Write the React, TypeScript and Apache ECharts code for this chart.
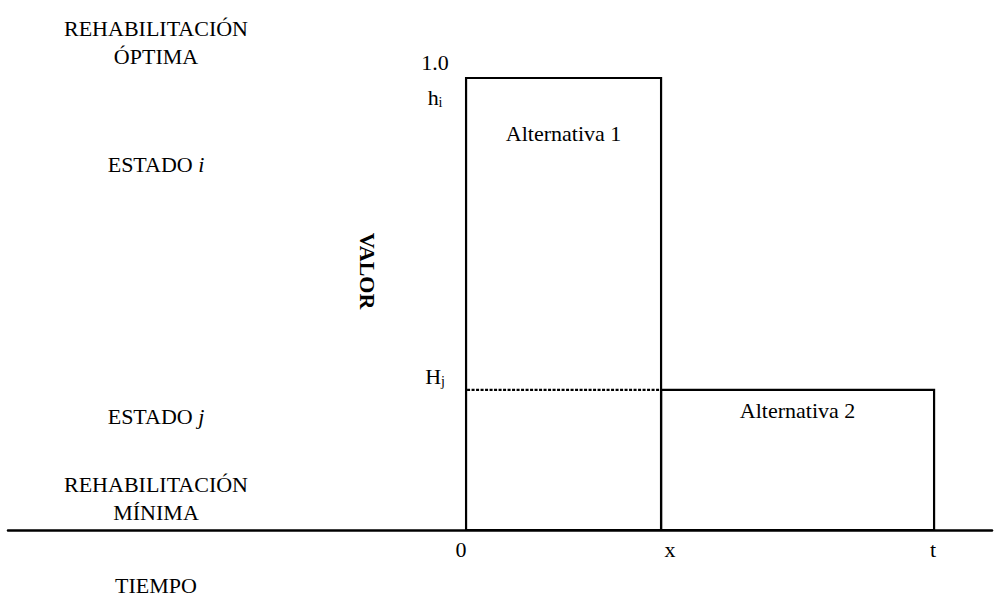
import React, { useEffect, useRef } from "react";
import * as echarts from "echarts";

// ---- data ----
const xTickValues = [0, 1, 2.4];
const xTickLabels = ["0", "x", "t"];
const alternativeNames = ["Alternativa 1", "Alternativa 2"];
const altStart = [0, 1];
const altEnd = [1, 2.4];
const altValue = [1.0, 0.31];
const yMarkValues = [1.0, 1.0, 0.31];
const yMarkLabels = ["1.0", "{b|h}{s|i}", "{b|H}{s|j}"];
const dottedFrom = [0, 0.31];
const dottedTo = [1, 0.31];
const stateLabels = [
  "REHABILITACIÓN\nÓPTIMA",
  "ESTADO {it|i}",
  "ESTADO {it|j}",
  "REHABILITACIÓN\nMÍNIMA",
];
const axisTitleX = "TIEMPO";
const axisTitleY = "VALOR";

// ---- styles / positions ----
const FONT = "Liberation Serif";
const FS = 22;
const altLabelOffsets = [55, 21];
const yMarkOffsets = [-16, 19, -13];
const xTickOffsets = [-5, 9, -1];
const stateLabelY = [42, 164, 416, 498];

const subRich = {
  b: { fontSize: FS, fontFamily: FONT, lineHeight: 24, fill: "#000" },
  s: { fontSize: 14, fontFamily: FONT, lineHeight: 12, verticalAlign: "bottom", fill: "#000" },
  it: { fontSize: FS, fontFamily: FONT, fontStyle: "italic", fill: "#000" },
};

export default function App() {
  const ref = useRef<HTMLDivElement>(null);
  useEffect(() => {
    if (!ref.current) return;
    const chart = echarts.init(ref.current, null, { renderer: "svg" });
    const rectData = altStart.map((s, i) => [s, altEnd[i], altValue[i], i]);
    const yMarkData = yMarkValues.map((v, i) => [v, i]);
    const xTickData = xTickValues.map((v, i) => [v, i]);

    const option: any = {
      animation: false,
      backgroundColor: "#fff",
      textStyle: { fontFamily: FONT },
      grid: { left: 8, right: 9, top: 78, bottom: 67 },
      xAxis: {
        type: "value",
        min: -2.349,
        max: 2.697,
        axisLine: { show: true, onZero: false, lineStyle: { color: "#000", width: 2.5 } },
        axisTick: { show: false },
        axisLabel: { show: false },
        splitLine: { show: false },
      },
      yAxis: {
        type: "value",
        min: 0,
        max: 1,
        show: false,
        splitLine: { show: false },
      },
      series: [
        {
          type: "custom",
          clip: false,
          data: rectData,
          renderItem: (params: any, api: any) => {
            const x0 = api.value(0), x1 = api.value(1), h = api.value(2), idx = api.value(3);
            const pTop = api.coord([x0, h]);
            const pBot = api.coord([x1, 0]);
            return {
              type: "group",
              children: [
                {
                  type: "rect",
                  shape: { x: pTop[0], y: pTop[1], width: pBot[0] - pTop[0], height: pBot[1] - pTop[1] },
                  style: { fill: "none", stroke: "#000", lineWidth: 2.2 },
                },
                {
                  type: "text",
                  x: (pTop[0] + pBot[0]) / 2,
                  y: pTop[1] + altLabelOffsets[idx],
                  style: {
                    text: alternativeNames[idx],
                    fill: "#000",
                    fontSize: FS,
                    fontFamily: FONT,
                    align: "center",
                    verticalAlign: "middle",
                  },
                },
              ],
            };
          },
        },
        {
          type: "custom",
          clip: false,
          data: [[dottedFrom[0], dottedFrom[1], dottedTo[0], dottedTo[1]]],
          renderItem: (params: any, api: any) => {
            const a = api.coord([api.value(0), api.value(1)]);
            const b = api.coord([api.value(2), api.value(3)]);
            return {
              type: "line",
              shape: { x1: a[0] + 1, y1: a[1], x2: b[0] - 1, y2: b[1] },
              style: { stroke: "#000", lineWidth: 2.2, lineDash: [3, 1.5] },
            };
          },
        },
        {
          type: "custom",
          clip: false,
          data: yMarkData,
          renderItem: (params: any, api: any) => {
            const v = api.value(0), idx = api.value(1);
            const p = api.coord([0, v]);
            return {
              type: "text",
              x: p[0] - 31,
              y: p[1] + yMarkOffsets[idx],
              style: {
                text: yMarkLabels[idx],
                rich: subRich,
                fill: "#000",
                fontSize: FS,
                fontFamily: FONT,
                align: "center",
                verticalAlign: "middle",
              },
            };
          },
        },
        {
          type: "custom",
          clip: false,
          data: xTickData,
          renderItem: (params: any, api: any) => {
            const v = api.value(0), idx = api.value(1);
            const p = api.coord([v, 0]);
            return {
              type: "text",
              x: p[0] + xTickOffsets[idx],
              y: p[1] + 19,
              style: {
                text: xTickLabels[idx],
                fill: "#000",
                fontSize: FS,
                fontFamily: FONT,
                align: "center",
                verticalAlign: "middle",
              },
            };
          },
        },
      ],
      graphic: [
        ...stateLabels.map((t, i) => ({
          type: "text",
          x: 156,
          y: stateLabelY[i],
          style: {
            text: t,
            rich: subRich,
            fill: "#000",
            fontSize: FS,
            fontFamily: FONT,
            lineHeight: 28,
            align: "center",
            verticalAlign: "middle",
          },
        })),
        {
          type: "text",
          x: 156,
          y: 585,
          style: {
            text: axisTitleX,
            fill: "#000",
            fontSize: FS,
            fontFamily: FONT,
            align: "center",
            verticalAlign: "middle",
          },
        },
        {
          type: "text",
          x: 367,
          y: 271,
          rotation: -Math.PI / 2,
          style: {
            text: axisTitleY,
            fill: "#000",
            fontSize: FS,
            fontWeight: "bold",
            fontFamily: FONT,
            align: "center",
            verticalAlign: "middle",
          },
        },
      ],
    };
    chart.setOption(option);
    return () => chart.dispose();
  }, []);
  return (
    <div
      ref={ref}
      style={{ position: "fixed", left: 0, top: 0, width: 1001, height: 597, background: "#fff" }}
    />
  );
}
